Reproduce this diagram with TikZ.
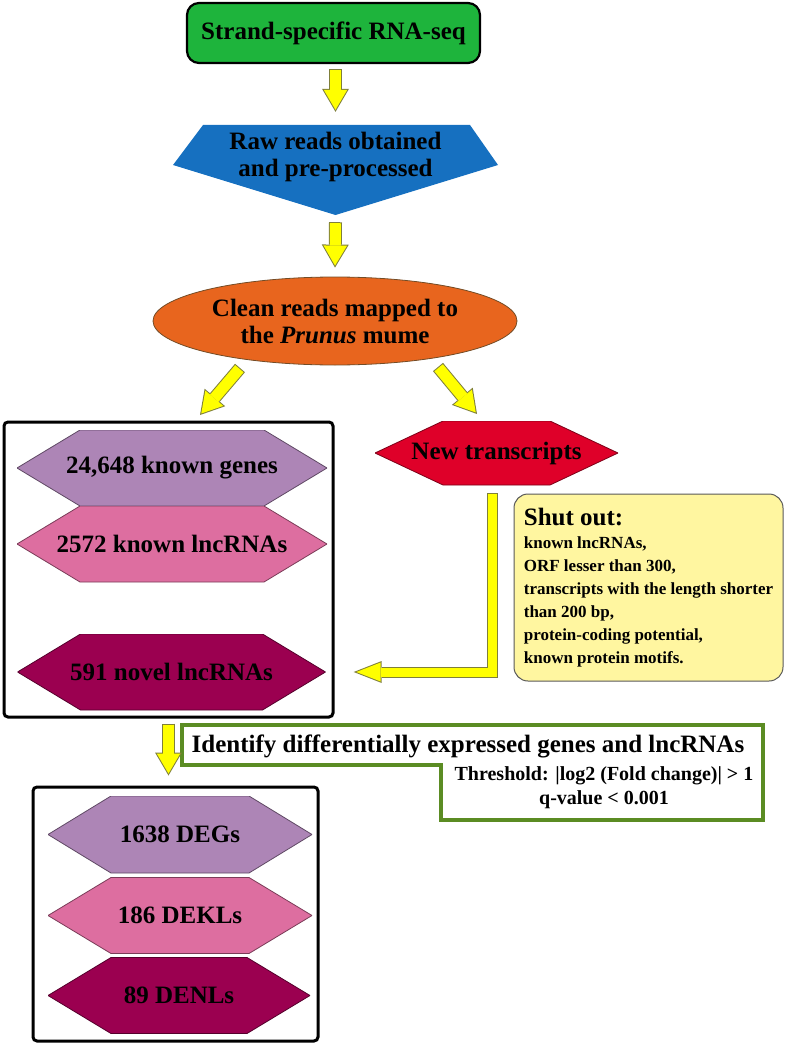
\documentclass[tikz,border=0pt]{standalone}
\usepackage{fontspec}
\setmainfont{Liberation Serif}
\definecolor{seqgreen}{HTML}{1EB43C}
\definecolor{rawblue}{HTML}{1670C0}
\definecolor{cleanorange}{HTML}{E8651E}
\definecolor{genecol}{HTML}{AD85B6}
\definecolor{lnccol}{HTML}{DD6EA0}
\definecolor{novelcol}{HTML}{9B0050}
\definecolor{newred}{HTML}{DF0029}
\definecolor{shutfill}{HTML}{FFF6A0}
\definecolor{identgreen}{HTML}{5B8C23}
\definecolor{arrowyellow}{HTML}{FFFF00}
\definecolor{arrowedge}{HTML}{7F7F3A}
\usetikzlibrary{arrows.meta, shapes.geometric}
\tikzset{
  lbl/.style={font=\bfseries\fontsize{25}{27}\selectfont, align=center, inner sep=0pt},
  startbox/.style={lbl, draw=black, line width=2.2pt, fill=seqgreen, rounded corners=12pt,
                   minimum width=293pt, minimum height=60pt},
  cleanbox/.style={lbl, ellipse, draw=brown!60!black, line width=.8pt, fill=cleanorange,
                   minimum width=364pt, minimum height=88pt},
  pentabox/.style={path picture={\fill[rawblue] ([xshift=30pt]path picture bounding box.north west)
      -- ([xshift=-28pt]path picture bounding box.north east) -- ([yshift=5pt]path picture bounding box.east)
      -- (path picture bounding box.south) -- ([yshift=5pt]path picture bounding box.west) -- cycle;}},
  hexbox/.style 2 args={lbl, path picture={\filldraw[draw=#1!55!black, line width=.8pt, fill=#1]
      (path picture bounding box.west) -- ([xshift=#2]path picture bounding box.north west)
      -- ([xshift=-#2]path picture bounding box.north east) -- (path picture bounding box.east)
      -- ([xshift=-#2]path picture bounding box.south east) -- ([xshift=#2]path picture bounding box.south west) -- cycle;}},
  frame/.style={draw=black, line width=3pt, rounded corners=4pt},
  shutbox/.style={draw=black!65, line width=1pt, fill=shutfill, rounded corners=14pt, align=left,
                  inner sep=0pt, font=\bfseries\fontsize{17}{23}\selectfont},
  identline/.style={draw=identgreen, line width=4pt, fill=white},
  arrowline/.style={draw=arrowedge, line width=13pt, -{Triangle[width=27pt,length=23pt,line width=0pt]}},
  arrowfill/.style={draw=arrowyellow, line width=11pt, shorten <=1pt, shorten >=2pt,
                    -{Triangle[width=23.5pt,length=20pt,line width=0pt]}},
}
\newcommand\yarrow[1]{\draw[arrowline] #1; \draw[arrowfill] #1;}

\begin{document}
\begin{tikzpicture}[x=1pt,y=-1pt]
\useasboundingbox (0,0) rectangle (787,1046);

\node[startbox] (seq) at (333.5,33) {Strand-specific RNA-seq};
\node[pentabox, minimum width=325pt, minimum height=90pt] (raw) at (335.5,170) {};
\node[lbl] (rawtxt) at (335.5,156.5) {Raw reads obtained\\and pre-processed};
\node[cleanbox] (clean) at (335,321) {Clean reads mapped to\\the \textit{Prunus} mume};

% known and novel
\node[frame, minimum width=329pt, minimum height=295pt] (known) at (168.5,569.5) {};
\node[hexbox={genecol}{63pt}, minimum width=310pt, minimum height=76pt] (hg) at (172,468) {24,648 known genes};
\node[hexbox={lnccol}{63pt}, minimum width=310pt, minimum height=76pt] (hl) at (172,544) {2572 known lncRNAs};
\node[hexbox={novelcol}{63pt}, minimum width=308pt, minimum height=76pt] (hn) at (171.5,672) {591 novel lncRNAs};
\node[hexbox={newred}{68pt}, minimum width=243pt, minimum height=64pt] (nt) at (496.5,453) {New transcripts};
\node[shutbox, minimum width=269pt, minimum height=187pt] (shut) at (648.5,587.5)
  {{\fontsize{25}{25}\selectfont Shut out:}\\known lncRNAs,\\ORF lesser than 300,\\transcripts with the length shorter\\than 200 bp,\\protein-coding potential,\\known protein motifs.};

% differential expression
\draw[identline] (182,725) -- (763,725) -- (763,820) -- (441,820) -- (441,765) -- (182,765) -- cycle;
\node[lbl] (ident) at (468,746) {Identify differentially expressed genes and lncRNAs};
\node[lbl, font=\bfseries\fontsize{20}{24}\selectfont] (thr) at (604,788) {Threshold: |log2 (Fold change)| > 1\\q-value < 0.001};
\node[frame, minimum width=285pt, minimum height=254pt] (de) at (175.5,914) {};
\node[hexbox={genecol}{63pt}, minimum width=264pt, minimum height=77pt] (deg) at (180,834.5) {1638 DEGs};
\node[hexbox={lnccol}{63pt}, minimum width=264pt, minimum height=76pt] (dekl) at (180,915.5) {186 DEKLs};
\node[hexbox={novelcol}{63pt}, minimum width=262pt, minimum height=76pt] (denl) at (179,995.5) {89 DENLs};

\coordinate (dl1) at (240,368); \coordinate (dl2) at (200,415);
\coordinate (dr1) at (438,367); \coordinate (dr2) at (477,414);
\coordinate (dein) at (known.south |- de.north);
\yarrow{([xshift=2pt,yshift=-5pt]seq.south) -- ([yshift=13pt]raw.north)}
\yarrow{([yshift=-7pt]raw.south) -- ([yshift=9pt]clean.north)}
\yarrow{(dl1) -- (dl2)}
\yarrow{(dr1) -- (dr2)}
\yarrow{([yshift=-5pt]known.south) -- ([yshift=10pt]dein)}
\draw[arrowline, line width=11pt, -{Triangle[width=22pt,length=28pt,line width=0pt]}]
  ([xshift=-4pt,yshift=-8pt]nt.south) |- ([xshift=28pt]hn.east);
\draw[arrowfill, line width=9pt, shorten >=2.7pt, -{Triangle[width=19pt,length=24.3pt,line width=0pt]}]
  ([xshift=-4pt,yshift=-8pt]nt.south) |- ([xshift=28pt]hn.east);
\end{tikzpicture}
\end{document}
